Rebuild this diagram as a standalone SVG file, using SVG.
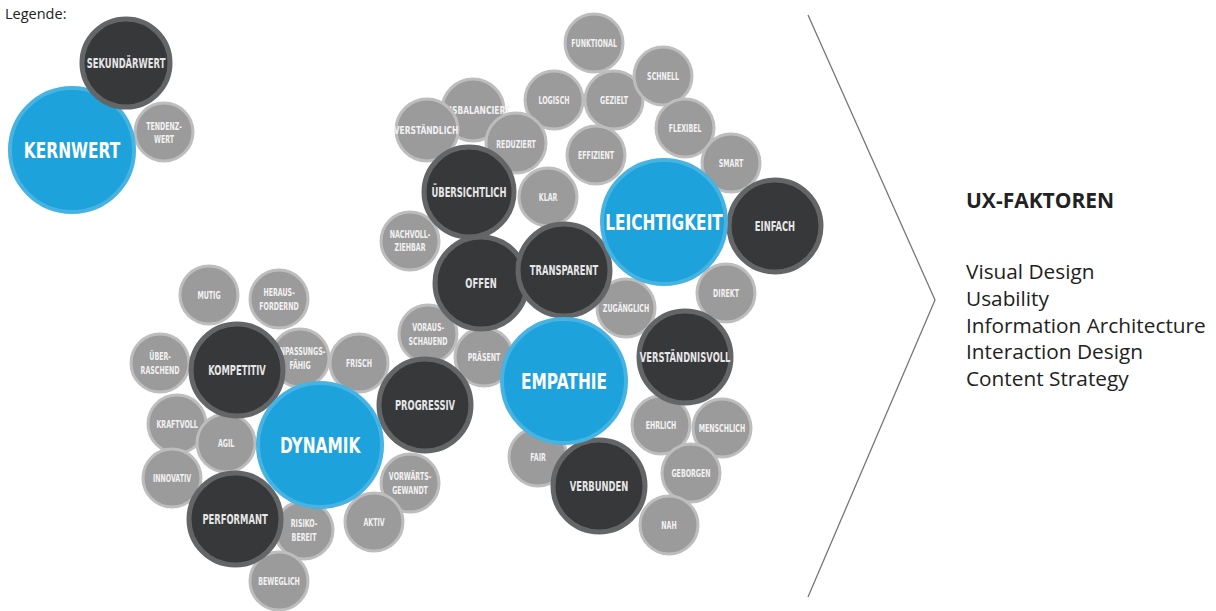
<svg xmlns="http://www.w3.org/2000/svg" width="1216" height="611" viewBox="0 0 1216 611">
<style>
.g circle{fill:#9b9b9b;stroke:#bdbdbd;stroke-width:3}
.d circle{fill:#36383a;stroke:#646567;stroke-width:5}
.b circle{fill:#1da2dc;stroke:#46b3e2;stroke-width:4}
.n text{font-family:"DejaVu Sans","Liberation Sans",sans-serif;font-weight:bold;text-anchor:middle;dominant-baseline:central;transform-box:fill-box;transform-origin:center;transform:scaleX(0.6)}
.g text{fill:#f2f2f2;font-size:10.5px}
.d text{fill:#e6e6e6;font-size:14px}
.b text{fill:#ffffff;font-size:22px}
.b text{transform:scaleX(0.7)}
.g text.w{transform:scaleX(0.72)}
.t{font-family:"Open Sans","Noto Sans",sans-serif;fill:#222}
</style>
<rect width="1216" height="611" fill="#ffffff"/>
<text class="t" x="5" y="19" font-size="14.5">Legende:</text>

<!-- legend -->
<g class="n">
<g id="tendenzwert" class="g"><circle cx="164" cy="132" r="29"/><text x="164" y="126">TENDENZ-</text><text x="164" y="139">WERT</text></g>
<g id="kernwert" class="b"><circle cx="72" cy="150" r="62"/><text x="72" y="150">KERNWERT</text></g>
<g id="sekundaerwert" class="d"><circle cx="126" cy="63" r="44"/><text x="126" y="63">SEKUNDÄRWERT</text></g>
</g>

<!-- top cluster -->
<g class="n">
<g id="funktional" class="g"><circle cx="594" cy="43" r="29"/><text x="594" y="43">FUNKTIONAL</text></g>
<g id="logisch" class="g"><circle cx="554" cy="100" r="29"/><text x="554" y="100">LOGISCH</text></g>
<g id="gezielt" class="g"><circle cx="614" cy="100" r="29"/><text x="614" y="100">GEZIELT</text></g>
<g id="schnell" class="g"><circle cx="663" cy="76" r="29"/><text x="663" y="76">SCHNELL</text></g>
<g id="flexibel" class="g"><circle cx="685" cy="128" r="29"/><text x="685" y="128">FLEXIBEL</text></g>
<g id="smart" class="g"><circle cx="731" cy="163" r="29"/><text x="731" y="163">SMART</text></g>
<g id="effizient" class="g"><circle cx="596" cy="155" r="29"/><text x="596" y="155">EFFIZIENT</text></g>
<g id="ausbalanciert" class="g"><circle cx="473" cy="110" r="31"/><text class="w" x="475" y="111">AUSBALANCIERT</text></g>
<g id="verstaendlich" class="g"><circle cx="427" cy="130" r="31"/><text class="w" x="426" y="131">VERSTÄNDLICH</text></g>
<g id="reduziert" class="g"><circle cx="516" cy="143" r="30"/><text x="516" y="144">REDUZIERT</text></g>
<g id="klar" class="g"><circle cx="548" cy="197" r="29"/><text x="548" y="197">KLAR</text></g>
<g id="nachvollziehbar" class="g"><circle cx="410" cy="241" r="29"/><text x="410" y="234">NACHVOLL-</text><text x="410" y="247">ZIEHBAR</text></g>
<g id="zugaenglich" class="g"><circle cx="626" cy="308" r="29"/><text x="626" y="308">ZUGÄNGLICH</text></g>
<g id="direkt" class="g"><circle cx="726" cy="293" r="29"/><text x="726" y="293">DIREKT</text></g>
<g id="vorausschauend" class="g"><circle cx="428" cy="334" r="29"/><text x="428" y="327">VORAUS-</text><text x="428" y="341">SCHAUEND</text></g>
<g id="praesent" class="g"><circle cx="484" cy="357" r="29"/><text x="484" y="357">PRÄSENT</text></g>
<g id="ehrlich" class="g"><circle cx="661" cy="425" r="29"/><text x="661" y="425">EHRLICH</text></g>
<g id="menschlich" class="g"><circle cx="722" cy="428" r="29"/><text x="722" y="428">MENSCHLICH</text></g>
<g id="fair" class="g"><circle cx="538" cy="457" r="29"/><text x="538" y="457">FAIR</text></g>
<g id="geborgen" class="g"><circle cx="691" cy="473" r="29"/><text x="691" y="473">GEBORGEN</text></g>
<g id="nah" class="g"><circle cx="669" cy="525" r="29"/><text x="669" y="525">NAH</text></g>

<g id="uebersichtlich" class="d"><circle cx="469" cy="192" r="45"/><text x="469" y="192">ÜBERSICHTLICH</text></g>
<g id="offen" class="d"><circle cx="481" cy="283" r="46"/><text x="481" y="283">OFFEN</text></g>
<g id="transparent" class="d"><circle cx="564" cy="270" r="46"/><text x="564" y="270">TRANSPARENT</text></g>
<g id="einfach" class="d"><circle cx="775" cy="226" r="46"/><text x="775" y="226">EINFACH</text></g>
<g id="verstaendnisvoll" class="d"><circle cx="685" cy="357" r="46"/><text x="685" y="357">VERSTÄNDNISVOLL</text></g>
<g id="verbunden" class="d"><circle cx="599" cy="486" r="46"/><text x="599" y="486">VERBUNDEN</text></g>
<g id="leichtigkeit" class="b"><circle cx="664" cy="222" r="62"/><text x="664" y="222">LEICHTIGKEIT</text></g>
<g id="empathie" class="b"><circle cx="564" cy="381" r="62"/><text x="564" y="381">EMPATHIE</text></g>
</g>

<!-- bottom-left cluster -->
<g class="n">
<g id="mutig" class="g"><circle cx="209" cy="295" r="29"/><text x="209" y="295">MUTIG</text></g>
<g id="herausfordernd" class="g"><circle cx="279" cy="299" r="29"/><text x="279" y="292">HERAUS-</text><text x="279" y="306">FORDERND</text></g>
<g id="anpassungsfaehig" class="g"><circle cx="300" cy="358" r="29"/><text x="300" y="351">ANPASSUNGS-</text><text x="300" y="365">FÄHIG</text></g>
<g id="frisch" class="g"><circle cx="359" cy="363" r="29"/><text x="359" y="363">FRISCH</text></g>
<g id="ueberraschend" class="g"><circle cx="160" cy="363" r="29"/><text x="160" y="356">ÜBER-</text><text x="160" y="370">RASCHEND</text></g>
<g id="kraftvoll" class="g"><circle cx="177" cy="424" r="29"/><text x="177" y="424">KRAFTVOLL</text></g>
<g id="agil" class="g"><circle cx="226" cy="443" r="29"/><text x="226" y="443">AGIL</text></g>
<g id="innovativ" class="g"><circle cx="172" cy="478" r="29"/><text x="172" y="478">INNOVATIV</text></g>
<g id="vorwaertsgewandt" class="g"><circle cx="410" cy="483" r="29"/><text x="410" y="476">VORWÄRTS-</text><text x="410" y="490">GEWANDT</text></g>
<g id="risikobereit" class="g"><circle cx="304" cy="530" r="29"/><text x="304" y="523">RISIKO-</text><text x="304" y="537">BEREIT</text></g>
<g id="aktiv" class="g"><circle cx="374" cy="522" r="29"/><text x="374" y="522">AKTIV</text></g>
<g id="beweglich" class="g"><circle cx="279" cy="581" r="29"/><text x="279" y="581">BEWEGLICH</text></g>

<g id="kompetitiv" class="d"><circle cx="237" cy="370" r="46"/><text x="237" y="370">KOMPETITIV</text></g>
<g id="progressiv" class="d"><circle cx="425" cy="405" r="46"/><text x="425" y="405">PROGRESSIV</text></g>
<g id="performant" class="d"><circle cx="235" cy="519" r="46"/><text x="235" y="519">PERFORMANT</text></g>
<g id="dynamik" class="b"><circle cx="320" cy="445" r="62"/><text x="320" y="445">DYNAMIK</text></g>
</g>

<g id="connectors">
<polyline points="808,15 935,300 808,597" fill="none" stroke="#777" stroke-width="1.3"/>
</g>

<g id="ux-faktoren">
<text class="t" x="966" y="208" font-size="21" font-weight="bold" fill="#111">UX-FAKTOREN</text>
<text class="t" x="966" y="279" font-size="20.8">Visual Design</text>
<text class="t" x="966" y="306" font-size="20.8">Usability</text>
<text class="t" x="966" y="333" font-size="20.8">Information Architecture</text>
<text class="t" x="966" y="359" font-size="20.8">Interaction Design</text>
<text class="t" x="966" y="386" font-size="20.8">Content Strategy</text>
</g>
</svg>
